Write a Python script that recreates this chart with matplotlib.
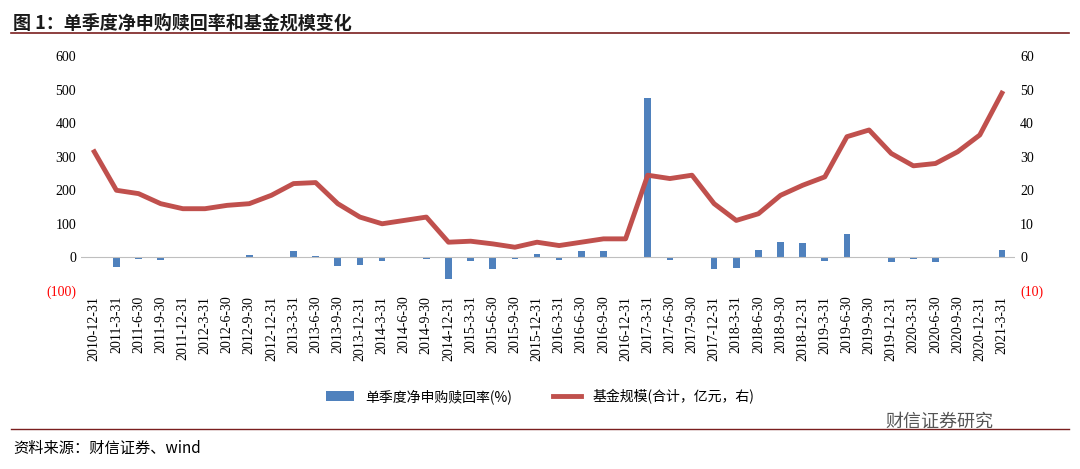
import matplotlib
matplotlib.use("Agg")
import matplotlib.pyplot as plt
from matplotlib.ticker import FuncFormatter

plt.rcParams['font.family'] = ['Noto Sans CJK SC', 'DejaVu Sans']

dates = ["2010-12-31","2011-3-31","2011-6-30","2011-9-30","2011-12-31","2012-3-31","2012-6-30","2012-9-30","2012-12-31",
         "2013-3-31","2013-6-30","2013-9-30","2013-12-31","2014-3-31","2014-6-30","2014-9-30","2014-12-31",
         "2015-3-31","2015-6-30","2015-9-30","2015-12-31","2016-3-31","2016-6-30","2016-9-30","2016-12-31",
         "2017-3-31","2017-6-30","2017-9-30","2017-12-31","2018-3-31","2018-6-30","2018-9-30","2018-12-31",
         "2019-3-31","2019-6-30","2019-9-30","2019-12-31","2020-3-31","2020-6-30","2020-9-30","2020-12-31","2021-3-31"]
redemption = [0,-30,-5,-8,-3,-3,-3,8,0,20,5,-25,-22,-12,0,-5,-65,-12,-35,-5,10,-8,20,18,0,
              475,-8,-3,-35,-32,22,45,42,-12,68,0,-15,-5,-15,-3,0,22]
scale = [31.5,20,19,16,14.5,14.5,15.5,16,18.5,22,22.3,16,12,10,11,12,4.5,4.8,4,3,4.5,3.5,4.5,5.5,5.5,
         24.5,23.5,24.5,16,11,13,18.5,21.5,24,36,38,31,27.3,28,31.5,36.5,49]

fig = plt.figure(figsize=(10.8, 4.69), dpi=100)
fig.text(0.012, 0.97, "图 1：单季度净申购赎回率和基金规模变化", fontsize=13, fontweight='bold', va='top', color='#1a1a1a')
fig.add_artist(plt.Line2D([0.01, 0.99], [0.93, 0.93], color='#7a1f1f', lw=1.2))
fig.add_artist(plt.Line2D([0.01, 0.99], [0.085, 0.085], color='#7a1f1f', lw=1.0))
fig.text(0.012, 0.045, "资料来源：财信证券、wind", fontsize=11, style='italic', va='center')
fig.text(0.82, 0.1, "财信证券研究", fontsize=13, color='#555555', va='center')

ax = fig.add_axes([0.075, 0.38, 0.865, 0.50])
x = list(range(len(dates)))
ax.bar(x, redemption, width=0.3, color='#4f81bd', label='单季度净申购赎回率(%)')
ax.set_ylim(-100, 600)
ax.set_xlim(-0.6, len(dates) - 0.4)
fmt = lambda v, p: f"({abs(int(v))})" if v < 0 else f"{int(v)}"
ax.yaxis.set_major_formatter(FuncFormatter(fmt))
ax.set_xticks(x)
ax.set_xticklabels(dates, rotation=90, fontsize=9, family='Liberation Serif')
for s in ax.spines.values():
    s.set_visible(False)
ax.axhline(0, color='#bfbfbf', lw=0.8)
ax.tick_params(length=0, labelsize=10)

ax2 = ax.twinx()
ax2.plot(x, scale, color='#c0504d', lw=3.5, label='基金规模(合计，亿元，右)')
ax2.set_ylim(-10, 60)
ax2.yaxis.set_major_formatter(FuncFormatter(fmt))
for s in ax2.spines.values():
    s.set_visible(False)
ax2.tick_params(length=0, labelsize=10)
fig.canvas.draw()
for a in (ax, ax2):
    for t in a.get_yticklabels():
        t.set_family('Liberation Serif')
        if t.get_text().startswith('('):
            t.set_color('red')

h1, l1 = ax.get_legend_handles_labels()
h2, l2 = ax2.get_legend_handles_labels()
fig.legend(h1 + h2, l1 + l2, loc='center', bbox_to_anchor=(0.5, 0.155), ncol=2, frameon=False, fontsize=10, columnspacing=3)

fig.savefig("out.png", dpi=100)
